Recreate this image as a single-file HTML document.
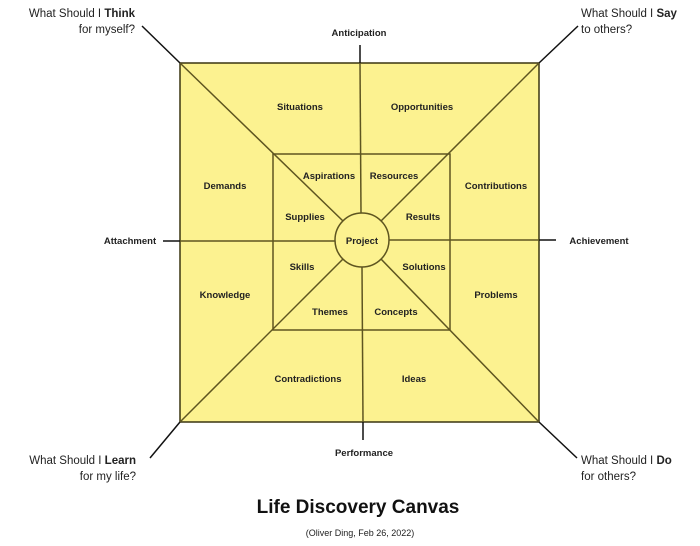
<!DOCTYPE html>
<html><head><meta charset="utf-8"><style>
body{margin:0;background:#fff;width:700px;height:546px;overflow:hidden}
svg{display:block}
text{font-family:"Liberation Sans",sans-serif}
.b{font-size:9.5px;font-weight:bold;fill:#222}
.s{font-size:11.5px;fill:#222}
</style></head><body>
<svg width="700" height="546" viewBox="0 0 700 546">
<rect x="180" y="63" width="359" height="359" fill="#fcf290" stroke="#3a3510" stroke-width="1.5"/>
<g stroke="#5e5520" stroke-width="1.5" fill="none">
<rect x="273" y="154" width="177" height="176"/>
<line x1="180" y1="63" x2="343" y2="221"/>
<line x1="539" y1="63" x2="381" y2="221"/>
<line x1="180" y1="422" x2="343" y2="259"/>
<line x1="539" y1="422" x2="381" y2="259"/>
<line x1="360" y1="63" x2="361" y2="213"/>
<line x1="362" y1="267" x2="363" y2="422"/>
<line x1="180" y1="241" x2="335" y2="241"/>
<line x1="389" y1="240" x2="539" y2="240"/>
<circle cx="362" cy="240" r="27" fill="#fcf290"/>
</g>
<g stroke="#111" stroke-width="1.5">
<line x1="142" y1="26" x2="180" y2="63"/>
<line x1="578" y1="26" x2="539" y2="63"/>
<line x1="150" y1="458" x2="180" y2="422"/>
<line x1="577" y1="458" x2="539" y2="422"/>
<line x1="360" y1="45" x2="360" y2="63"/>
<line x1="363" y1="422" x2="363" y2="440"/>
<line x1="163" y1="241" x2="180" y2="241"/>
<line x1="539" y1="240" x2="556" y2="240"/>
</g>
<g class="b" text-anchor="middle">
<text x="359" y="36">Anticipation</text>
<text x="364" y="456">Performance</text>
<text x="130" y="244">Attachment</text>
<text x="599" y="244">Achievement</text>
<text x="300" y="110">Situations</text>
<text x="422" y="110">Opportunities</text>
<text x="225" y="189">Demands</text>
<text x="496" y="189">Contributions</text>
<text x="225" y="298">Knowledge</text>
<text x="496" y="298">Problems</text>
<text x="308" y="382">Contradictions</text>
<text x="414" y="382">Ideas</text>
<text x="329" y="179">Aspirations</text>
<text x="394" y="179">Resources</text>
<text x="305" y="220">Supplies</text>
<text x="423" y="220">Results</text>
<text x="362" y="244">Project</text>
<text x="302" y="270">Skills</text>
<text x="424" y="270">Solutions</text>
<text x="330" y="315">Themes</text>
<text x="396" y="315">Concepts</text>
</g>
<g class="s">
<text x="135" y="17" text-anchor="end">What Should I <tspan font-weight="bold">Think</tspan></text>
<text x="135" y="33" text-anchor="end">for myself?</text>
<text x="581" y="17">What Should I <tspan font-weight="bold">Say</tspan></text>
<text x="581" y="33">to others?</text>
<text x="136" y="464" text-anchor="end">What Should I <tspan font-weight="bold">Learn</tspan></text>
<text x="136" y="480" text-anchor="end">for my life?</text>
<text x="581" y="464">What Should I <tspan font-weight="bold">Do</tspan></text>
<text x="581" y="480">for others?</text>
</g>
<text x="358" y="513" text-anchor="middle" font-size="19" font-weight="bold" fill="#111">Life Discovery Canvas</text>
<text x="360" y="536" text-anchor="middle" font-size="9" fill="#222">(Oliver Ding, Feb 26, 2022)</text>
</svg>
</body></html>
